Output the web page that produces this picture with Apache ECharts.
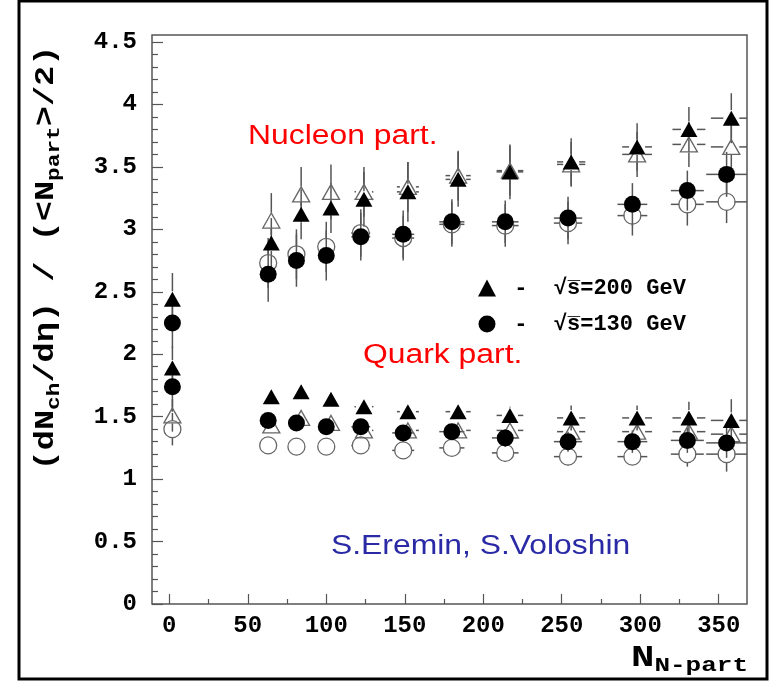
<!DOCTYPE html>
<html>
<head>
<meta charset="UTF-8">
<title>dNch/deta per participant pair</title>
<script src="https://cdn.jsdelivr.net/npm/echarts@6/dist/echarts.min.js"></script>
<style>
html, body { margin: 0; padding: 0; background: #fff; }
#main { width: 769px; height: 681px; }
</style>
</head>
<body>
<div id="main"></div>
<script>
// N_part of the centrality bins (200 GeV points sit a little right of 130 GeV)
var npart200 = [2, 65, 84, 103, 124, 152, 184, 217, 256, 298, 331, 358];
var npart130 = [2, 63, 81, 100, 122, 149, 180, 214, 254, 295, 330, 355];
var npartErr = [0, 3, 4, 5, 6, 7, 8, 8.5, 9, 9.5, 10.5, 13];

// nucleon participant scaling
var nuc200     = [2.44, 2.89, 3.12, 3.17, 3.24, 3.30, 3.40, 3.46, 3.54, 3.66, 3.80, 3.89];
var nuc200Err  = [0.21, 0.20, 0.20, 0.20, 0.22, 0.24, 0.22, 0.22, 0.19, 0.19, 0.18, 0.20];
var nuc200o    = [null, 3.07, 3.28, 3.30, 3.30, 3.34, 3.43, 3.47, 3.52, 3.60, 3.68, 3.66];
var nuc200oErr = [null, 0.22, 0.22, 0.22, 0.20, 0.20, 0.20, 0.20, 0.18, 0.18, 0.18, 0.18];
var nuc130     = [2.25, 2.64, 2.75, 2.79, 2.94, 2.96, 3.06, 3.06, 3.09, 3.20, 3.31, 3.44];
var nuc130Err  = [0.20, 0.22, 0.21, 0.20, 0.19, 0.19, 0.18, 0.17, 0.17, 0.17, 0.16, 0.18];
var nuc130o    = [null, 2.73, 2.80, 2.86, 2.97, 2.93, 3.04, 3.03, 3.05, 3.11, 3.20, 3.22];
var nuc130oErr = [null, 0.20, 0.20, 0.20, 0.19, 0.18, 0.18, 0.17, 0.17, 0.16, 0.17, 0.17];

// quark participant scaling
var qrk200     = [1.89, 1.66, 1.70, 1.64, 1.58, 1.54, 1.54, 1.51, 1.49, 1.49, 1.49, 1.47];
var qrk200Err  = [0.17, 0.04, 0.04, 0.04, 0.05, 0.05, 0.06, 0.07, 0.10, 0.10, 0.13, 0.17];
var qrk200o    = [1.51, 1.43, 1.49, 1.45, 1.39, 1.39, 1.39, 1.39, 1.38, 1.38, 1.38, 1.36];
var qrk200oErr = [0.13, 0.04, 0.04, 0.04, 0.05, 0.05, 0.06, 0.07, 0.08, 0.09, 0.10, 0.12];
var qrk130     = [1.74, 1.47, 1.45, 1.42, 1.42, 1.37, 1.38, 1.33, 1.30, 1.30, 1.31, 1.29];
var qrk130Err  = [0.20, 0.04, 0.04, 0.04, 0.05, 0.05, 0.06, 0.07, 0.08, 0.09, 0.10, 0.12];
var qrk130o    = [1.40, 1.27, 1.26, 1.26, 1.27, 1.23, 1.25, 1.21, 1.18, 1.18, 1.20, 1.20];
var qrk130oErr = [0.13, 0.04, 0.04, 0.04, 0.05, 0.05, 0.06, 0.07, 0.07, 0.06, 0.10, 0.14];

var xLabels = [0, 50, 100, 150, 200, 250, 300, 350];
var xMinor = [25, 75, 125, 175, 225, 275, 325];
var yLabels = [0, 0.5, 1, 1.5, 2, 2.5, 3, 3.5, 4, 4.5];

var mono = '"Liberation Mono", "DejaVu Sans Mono", monospace';
var sans = '"Liberation Sans", Arial, sans-serif';

var yMinor = [];
for (var i = 1; i < 46; i++) { if (i % 5) yMinor.push(i / 10); }

function pts(xs, ys, ey) {
	var out = [];
	for (var i = 0; i < xs.length; i++) {
		if (ys[i] == null) continue;
		out.push([xs[i], ys[i], npartErr[i], ey[i]]);
	}
	return out;
}

// error bars with a gap round the marker, like ROOT draws them
function errItem(params, api) {
	var x = api.value(0), y = api.value(1), ex = api.value(2), ey = api.value(3);
	var c = api.coord([x, y]);
	var top = api.coord([x, y + ey])[1];
	var bot = api.coord([x, y - ey])[1];
	var lft = api.coord([x - ex, y])[0];
	var rgt = api.coord([x + ex, y])[0];
	var gap = 8;
	var st = { stroke: '#555', lineWidth: 1.5 };
	var kids = [];
	if (c[1] - gap > top) kids.push({ type: 'line', shape: { x1: c[0], y1: top, x2: c[0], y2: c[1] - gap }, style: st });
	if (bot > c[1] + gap) kids.push({ type: 'line', shape: { x1: c[0], y1: c[1] + gap, x2: c[0], y2: bot }, style: st });
	if (c[0] - gap > lft) kids.push({ type: 'line', shape: { x1: lft, y1: c[1], x2: c[0] - gap, y2: c[1] }, style: st });
	if (rgt > c[0] + gap) kids.push({ type: 'line', shape: { x1: c[0] + gap, y1: c[1], x2: rgt, y2: c[1] }, style: st });
	return { type: 'group', children: kids };
}

function errSeries(data) {
	return { type: 'custom', renderItem: errItem, data: data, clip: true, z: 2, silent: true };
}

function markSeries(name, data, filled, tri) {
	return {
		type: 'scatter', name: name, data: data, z: filled ? 5 : 3,
		symbol: tri ? 'triangle' : 'circle',
		symbolSize: tri ? [17, 15] : 17,
		itemStyle: filled
			? { color: '#000', opacity: 1 }
			: { color: 'rgba(255,255,255,0)', borderColor: '#666', borderWidth: 1.3, opacity: 1 }
	};
}

var sets = [
	[pts(npart200, nuc200o, nuc200oErr), 'n200o', false, true],
	[pts(npart130, nuc130o, nuc130oErr), 'n130o', false, false],
	[pts(npart200, qrk200o, qrk200oErr), 'q200o', false, true],
	[pts(npart130, qrk130o, qrk130oErr), 'q130o', false, false],
	[pts(npart200, nuc200, nuc200Err), '200', true, true],
	[pts(npart130, nuc130, nuc130Err), '130', true, false],
	[pts(npart200, qrk200, qrk200Err), '200', true, true],
	[pts(npart130, qrk130, qrk130Err), '130', true, false]
];

var series = [];
sets.forEach(function (s) { series.push(errSeries(s[0])); });
sets.forEach(function (s) { series.push(markSeries(s[1], s[0], s[2], s[3])); });

var tickStyle = { color: '#555', width: 1.2 };

var chart = echarts.init(document.getElementById('main'));
var option = {
	backgroundColor: '#fff',
	animation: false,
	grid: { left: 152, top: 35, right: 22, bottom: 77, show: true, borderColor: '#555', borderWidth: 1.5 },
	xAxis: [{
		type: 'value', min: -11, max: 368,
		axisLine: { show: false, onZero: false },
		splitLine: { show: false },
		axisTick: { inside: true, length: 10, customValues: xLabels, lineStyle: tickStyle },
		axisLabel: { customValues: xLabels, margin: 10, color: '#000', fontFamily: mono, fontWeight: 'bold', fontSize: 24 }
	}, {
		type: 'value', min: -11, max: 368, position: 'bottom',
		axisLine: { show: false, onZero: false }, splitLine: { show: false }, axisLabel: { show: false },
		axisTick: { inside: true, length: 5, customValues: xMinor, lineStyle: tickStyle }
	}],
	yAxis: [{
		type: 'value', min: 0, max: 4.556,
		axisLine: { show: false, onZero: false },
		splitLine: { show: false },
		axisTick: { inside: true, length: 11, customValues: yLabels, lineStyle: tickStyle },
		axisLabel: {
			customValues: yLabels, margin: 15, color: '#000', fontFamily: mono, fontWeight: 'bold', fontSize: 24,
			formatter: function (v) { return String(v); }
		}
	}, {
		type: 'value', min: 0, max: 4.556, position: 'left',
		axisLine: { show: false, onZero: false }, splitLine: { show: false }, axisLabel: { show: false },
		axisTick: { inside: true, length: 6, customValues: yMinor, lineStyle: tickStyle }
	}],
	legend: {
		orient: 'vertical', left: 473, top: 272, itemGap: 14, itemWidth: 18, itemHeight: 17,
		selectedMode: false,
		data: ['200', '130'],
		formatter: function (n) { return '{t| -  \u221As\u0305=' + n + ' GeV}'; },
		textStyle: { rich: { t: { fontFamily: mono, fontWeight: 'bold', fontSize: 22, color: '#000' } } }
	},
	graphic: [
		{ type: 'rect', shape: { x: 19, y: 1, width: 748, height: 678 }, style: { fill: 'none', stroke: '#000', lineWidth: 3 }, silent: true },
		{ type: 'text', x: 248, y: 137, scaleX: 1.18, style: { text: 'Nucleon part.', fill: '#ff0000', font: '27px ' + sans, verticalAlign: 'middle' } },
		{ type: 'text', x: 363, y: 356, scaleX: 1.18, style: { text: 'Quark part.', fill: '#ff0000', font: '27px ' + sans, verticalAlign: 'middle' } },
		{ type: 'text', x: 331, y: 547, scaleX: 1.18, style: { text: 'S.Eremin, S.Voloshin', fill: '#2a2aa6', font: '27px ' + sans, verticalAlign: 'middle' } },
		{
			type: 'text', x: 46, y: 258, rotation: Math.PI / 2, scaleX: 1.2,
			style: {
				text: '{m|(dN}{s|ch}{m|/d\u03B7) / (<N}{s|part}{m|>/2)}',
				align: 'center', verticalAlign: 'middle', fill: '#000',
				rich: {
					m: { fontFamily: mono, fontWeight: 'bold', fontSize: 28, lineHeight: 36, verticalAlign: 'middle', fill: '#000' },
					s: { fontFamily: mono, fontWeight: 'bold', fontSize: 19, lineHeight: 36, verticalAlign: 'bottom', fill: '#000' }
				}
			}
		},
		{
			type: 'text', x: 748, y: 658, scaleX: 1.3,
			style: {
				text: '{m|N}{s|N-part}',
				align: 'right', verticalAlign: 'middle', fill: '#000',
				rich: {
					m: { fontFamily: mono, fontWeight: 'bold', fontSize: 30, lineHeight: 36, verticalAlign: 'middle', fill: '#000' },
					s: { fontFamily: mono, fontWeight: 'bold', fontSize: 20, lineHeight: 36, verticalAlign: 'bottom', fill: '#000' }
				}
			}
		}
	],
	series: series
};
chart.setOption(option);
</script>
</body>
</html>
